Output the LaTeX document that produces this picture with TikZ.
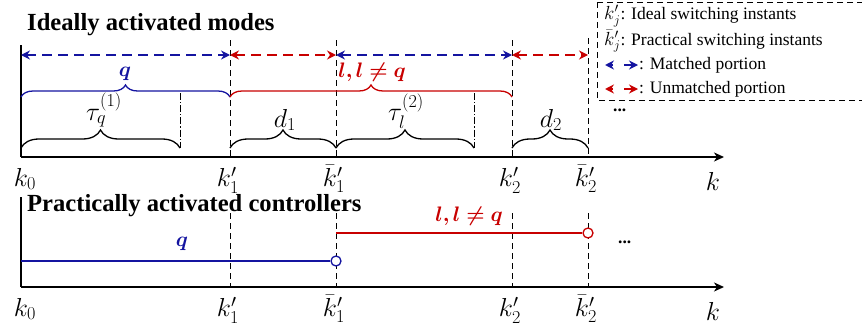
\RequirePackage{fix-cm}
\documentclass[tikz,border=0pt]{standalone}
\usepackage{amsmath,amssymb,bm}
\usepackage{fontspec}
\setmainfont{Liberation Serif}
\usepackage{tikz}
\usetikzlibrary{positioning}
\usetikzlibrary{arrows.meta,decorations.pathreplacing}
\definecolor{ModeBlue}{RGB}{20,20,160}
\definecolor{ModeRed}{RGB}{200,0,0}
\tikzset{
  axis/.style={draw=black,line width=2.2pt,-{Stealth[length=10pt,width=9pt,inset=3pt]}},
  yaxis/.style={draw=black,line width=2.2pt},
  instant/.style={draw=black,dash pattern=on 6pt off 4pt,line width=1pt},
  sojourn/.style={draw=black,dash pattern=on 7pt off 2pt on 1.2pt off 2pt,line width=0.9pt},
  portion/.style={line width=1.6pt,dash pattern=on 10pt off 6pt,
    {Stealth[length=9pt,width=9pt,inset=3pt]}-{Stealth[length=9pt,width=9pt,inset=3pt]}},
  legtip/.style={line width=1.6pt,-{Stealth[length=9pt,width=9pt,inset=3pt]}},
  modebrace/.style={decorate,decoration={brace,amplitude=12pt},line width=1.3pt},
  timebrace/.style={decorate,decoration={brace,amplitude=18pt},line width=1.3pt},
  lbl/.style={inner sep=0pt,font=\fontsize{26}{28}\selectfont},
  mode/.style={inner sep=0pt,font=\fontsize{21}{23}\selectfont},
  headline/.style={inner sep=0pt,anchor=west,font=\fontsize{24.6}{27}\selectfont\bfseries},
  legtext/.style={inner sep=0pt,anchor=west,font=\fontsize{17.5}{20}\selectfont},
  ctrl/.style={line width=1.3pt},
  jump/.style={circle,fill=white,line width=1.3pt,inner sep=0pt,minimum size=10pt},
}
\newcommand{\legmath}[1]{{\fontsize{19}{21}\selectfont$#1$}}
\begin{document}
\begin{tikzpicture}[x=1pt,y=-1pt]
\useasboundingbox (0,0) rectangle (862,332);
\clip (0,0) rectangle (862,332);
% ideal time line
\coordinate (t0) at (21,157);
\coordinate (t1) at (230,157);
\coordinate (tb1) at (336,157);
\coordinate (t2) at (512,157);
\coordinate (tb2) at (588,157);
\coordinate (tend) at (724,157);
\coordinate (ttop) at (21,45);
\coordinate (u1) at (230,40);
\coordinate (ub1) at (336,40);
\coordinate (u2) at (512,40);
\coordinate (ub2) at (588,38);
\coordinate (a0) at (21,55);
\coordinate (a1) at (230,55);
\coordinate (ab1) at (336,55);
\coordinate (a2) at (512,55);
\coordinate (ab2) at (588,55);
\coordinate (m0) at (21,97);
\coordinate (m1) at (230,97);
\coordinate (m2) at (512,97);
\coordinate (s0) at (21,148);
\coordinate (sq) at (180,148);
\coordinate (s1) at (230,148);
\coordinate (sb1) at (336,148);
\coordinate (sl) at (474,148);
\coordinate (s2) at (512,148);
\coordinate (sb2) at (588,148);
\coordinate (dq) at (180,93);
\coordinate (dl) at (474,93);
% practical time line
\coordinate (b0) at (21,287);
\coordinate (b1) at (230,287);
\coordinate (bb1) at (336,287);
\coordinate (b2) at (512,287);
\coordinate (bb2) at (588,287);
\coordinate (bend) at (724,287);
\coordinate (btop) at (21,197);
\coordinate (v1) at (230,213);
\coordinate (vb1) at (336,213);
\coordinate (v2) at (512,213);
\coordinate (vb2) at (588,213);
\coordinate (cq) at (21,261);
\coordinate (cl) at (336,233);

\node[headline] (ideal) at (27,25) {Ideally activated modes};
\node[headline] (practical) at (27,206) {Practically activated controllers};

\draw[instant] (u1) -- (t1);
\draw[instant] (ub1) -- (tb1);
\draw[instant] (u2) -- (t2);
\draw[instant] (ub2) -- (tb2);
\draw[sojourn] (dq) -- (sq);
\draw[sojourn] (dl) -- (sl);
\draw[yaxis] (ttop) -- (t0);
\draw[axis] (t0) -- (tend);

\draw[portion,ModeBlue] (a0) -- (a1);
\draw[portion,ModeRed] (a1) -- (ab1);
\draw[portion,ModeBlue] (ab1) -- (a2);
\draw[portion,ModeRed] (a2) -- (ab2);

\draw[modebrace,ModeBlue] (m0) -- (m1);
\draw[modebrace,ModeRed] (m1) -- (m2);
\node[mode,text=ModeBlue] (lq) at (125,74) {$\bm{q}$};
\node[mode,text=ModeRed] (ll) at (372,72) {$\bm{l, l \neq q}$};

\draw[timebrace] (s0) -- (sq);
\draw[timebrace] (s1) -- (sb1);
\draw[timebrace] (sb1) -- (sl);
\draw[timebrace] (s2) -- (sb2);
\node[lbl] (tauq) at (104,110) {$\tau_q^{(1)}$};
\node[lbl] (d1) at (285,120) {$d_1$};
\node[lbl] (taul) at (406,111) {$\tau_l^{(2)}$};
\node[lbl] (d2) at (551,120) {$d_2$};

\node[lbl] (lk0) at (25,179) {$k_0$};
\node[lbl] (lk1) at (228,180) {$k_1'$};
\node[lbl] (lkb1) at (334,179) {$\bar{k}_1'$};
\node[lbl] (lk2) at (510,180) {$k_2'$};
\node[lbl] (lkb2) at (586,179) {$\bar{k}_2'$};
\node[lbl] (lk) at (713,181) {$k$};

% legend
\draw[instant] (597,2) rectangle (872,100);
\node[legtext] (leg1) at (604,16) {\legmath{k_j'}: Ideal switching instants};
\node[legtext] (leg2) at (604,41) {\legmath{\bar{k}_j'}: Practical switching instants};
\draw[legtip,ModeBlue] (613,65) -- (605,65);
\draw[legtip,ModeBlue] (624,65) -- (638,65);
\node[legtext] (leg3) at (639,65) {: Matched portion};
\draw[legtip,ModeRed] (613,89) -- (605,89);
\draw[legtip,ModeRed] (624,89) -- (638,89);
\node[legtext] (leg4) at (639,89) {: Unmatched portion};
\node[legtext] (more1) at (613,110) {\textbf{...}};

% controllers
\draw[instant] (v1) -- (b1);
\draw[instant] (vb1) -- (bb1);
\draw[instant] (v2) -- (b2);
\draw[instant] (vb2) -- (bb2);
\draw[yaxis] (btop) -- (b0);
\draw[axis] (b0) -- (bend);
\node[jump,draw=ModeBlue] (jq) at (336,261) {};
\node[jump,draw=ModeRed] (jl) at (588,233) {};
\draw[ctrl,ModeBlue] (cq) -- (jq);
\draw[ctrl,ModeRed] (cl) -- (jl);
\node[mode,text=ModeBlue] (cqlbl) at (182,244) {$\bm{q}$};
\node[mode,text=ModeRed] (cllbl) at (469,216) {$\bm{l, l \neq q}$};
\node[legtext] (more2) at (618,242) {\textbf{...}};

\node[lbl] (bk0) at (25,309) {$k_0$};
\node[lbl] (bk1) at (228,310) {$k_1'$};
\node[lbl] (bkb1) at (334,309) {$\bar{k}_1'$};
\node[lbl] (bk2) at (510,310) {$k_2'$};
\node[lbl] (bkb2) at (586,309) {$\bar{k}_2'$};
\node[lbl] (bk) at (713,311) {$k$};
\end{tikzpicture}
\end{document}
